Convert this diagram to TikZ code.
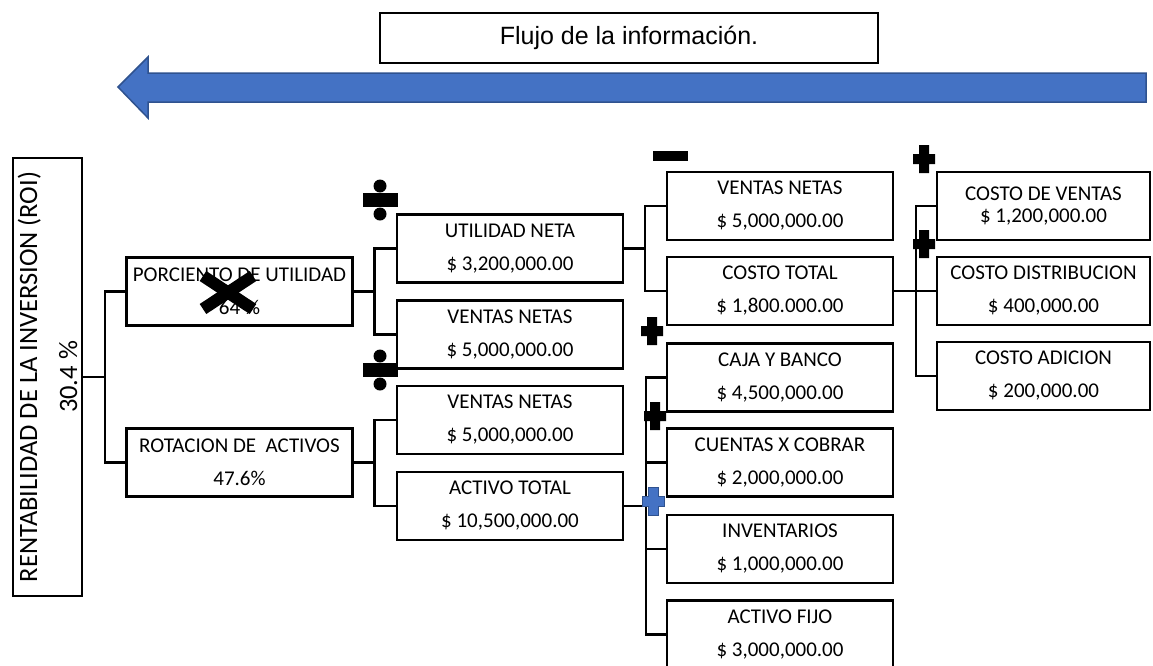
\documentclass[tikz,border=0pt]{standalone}
\usepackage{fontspec}
\setmainfont{Carlito}
\newfontfamily\arialf{Liberation Sans}
\definecolor{arrowblue}{HTML}{4472C4}
\definecolor{arrowedge}{HTML}{2F528F}
\begin{document}
\begin{tikzpicture}[x=1pt,y=-1pt,
  box/.style={draw=black, line width=2.2pt, rectangle, minimum width=226pt, minimum height=68pt,
    inner sep=0pt, align=center, font=\fontsize{21}{33}\selectfont},
  rbox/.style={box, minimum width=213pt},
  link/.style={draw=black, line width=2.4pt},
  hplus/.pic={\path[pic actions] (-5,-14) -- (5,-14) -- (5,-5) -- (11,-5) -- (11,5) -- (5,5) -- (5,14) -- (-5,14) -- (-5,5) -- (-11,5) -- (-11,-5) -- (-5,-5) -- cycle;},
  blackplus/.style={fill=black, draw=none},
  blueplus/.style={fill=arrowblue, draw=arrowedge, line width=1pt}]

\useasboundingbox (0,0) rectangle (1153,665);
\fill[white] (0,0) rectangle (1153,665);

% information flow
\node[draw=black, line width=1.2pt, minimum width=498pt, minimum height=50pt, inner sep=0pt,
  font=\arialf\fontsize{25}{28}\selectfont] (flujo) at (629,38) {Flujo de la información.};
\filldraw[fill=arrowblue, draw=arrowedge, line width=1.5pt]
  (118,87) -- (148,57) -- (148,73) -- (1146,73) -- (1146,102) -- (148,102) -- (148,118) -- cycle;

% boxes
\node[draw=black, line width=2.2pt, rotate=90, minimum width=438pt, minimum height=69pt, inner sep=0pt,
  align=center, font=\fontsize{26.5}{40}\selectfont] (roi) at (47.5,377)
  {RENTABILIDAD DE LA INVERSION (ROI)\\30.4 \%};

\node[box] (porc) at (239.5,291.5) {PORCIENTO DE UTILIDAD\\64 \%};
\node[box] (rot)  at (239.5,462.5) {ROTACION DE\ \ ACTIVOS\\47.6\%};

\node[box] (util) at (510,248.5) {UTILIDAD NETA\\\$ 3,200,000.00};
\node[box] (vn1)  at (510,334.5) {VENTAS NETAS\\\$ 5,000,000.00};
\node[box] (vn2)  at (510,420)   {VENTAS NETAS\\\$ 5,000,000.00};
\node[box] (act)  at (510,506)   {ACTIVO TOTAL\\\$ 10,500,000.00};

\node[box] (vn3)  at (780,206)   {VENTAS NETAS\\\$ 5,000,000.00};
\node[box] (ct)   at (780,291)   {COSTO TOTAL\\\$ 1,800.000.00};
\node[box] (caja) at (780,377.5) {CAJA Y BANCO\\\$ 4,500,000.00};
\node[box] (cxc)  at (780,462.5) {CUENTAS X COBRAR\\\$ 2,000,000.00};
\node[box] (inv)  at (780,549)   {INVENTARIOS\\\$ 1,000,000.00};
\node[box] (fijo) at (780,634.5) {ACTIVO FIJO\\\$ 3,000,000.00};

\node[rbox, font=\fontsize{21}{22}\selectfont] (cv) at (1043.5,206) {COSTO DE VENTAS\\\$ 1,200,000.00};
\node[rbox] (cd) at (1043.5,291) {COSTO DISTRIBUCION\\\$ 400,000.00};
\node[rbox] (ca) at (1043.5,376) {COSTO ADICION\\\$ 200,000.00};

% connectors
\draw[link] (roi.south) -- ++(22,0) coordinate (j1);
\draw[link] (j1) |- (porc.west);
\draw[link] (j1) |- (rot.west);

\draw[link] (porc.east) -- ++(21,0) coordinate (j2);
\draw[link] (j2) |- (util.west);
\draw[link] (j2) |- (vn1.west);

\draw[link] (rot.east) -- ++(21,0) coordinate (j3);
\draw[link] (j3) |- (vn2.west);
\draw[link] (j3) |- (act.west);

\draw[link] (util.east) -- ++(21,0) coordinate (j4);
\draw[link] (j4) |- (vn3.west);
\draw[link] (j4) |- (ct.west);

\draw[link] (ct.east) -- ++(22,0) coordinate (j5);
\draw[link] (j5) |- (cv.west);
\draw[link] (j5) |- (cd.west);
\draw[link] (j5) |- (ca.west);

\draw[link] (act.east) -- ++(22,0) coordinate (j6);
\draw[link] (j6) |- (caja.west);
\draw[link] (j6) |- (cxc.west);
\draw[link] (j6) |- (inv.west);
\draw[link] (j6) |- (fijo.west);

% operator symbols
\fill[black] (363,193) rectangle (398,207);
\fill[black] (380,186) circle (6.5pt);
\fill[black] (380,214) circle (6.5pt);

\fill[black] (363,363) rectangle (398,377);
\fill[black] (380,356) circle (6.5pt);
\fill[black] (380,384) circle (6.5pt);

\fill[black] (653,151) rectangle (688,161);

\pic[blackplus] at (924,159) {hplus};
\pic[blackplus] at (924,244) {hplus};
\pic[blackplus] at (652,331) {hplus};
\pic[blackplus] at (655,416) {hplus};
\pic[blueplus] at (653,501) {hplus};

% cross over percentage
\draw[black, line width=12pt] (203,276) -- (253,309);
\draw[black, line width=12pt] (203,309) -- (253,276);
\end{tikzpicture}
\end{document}
